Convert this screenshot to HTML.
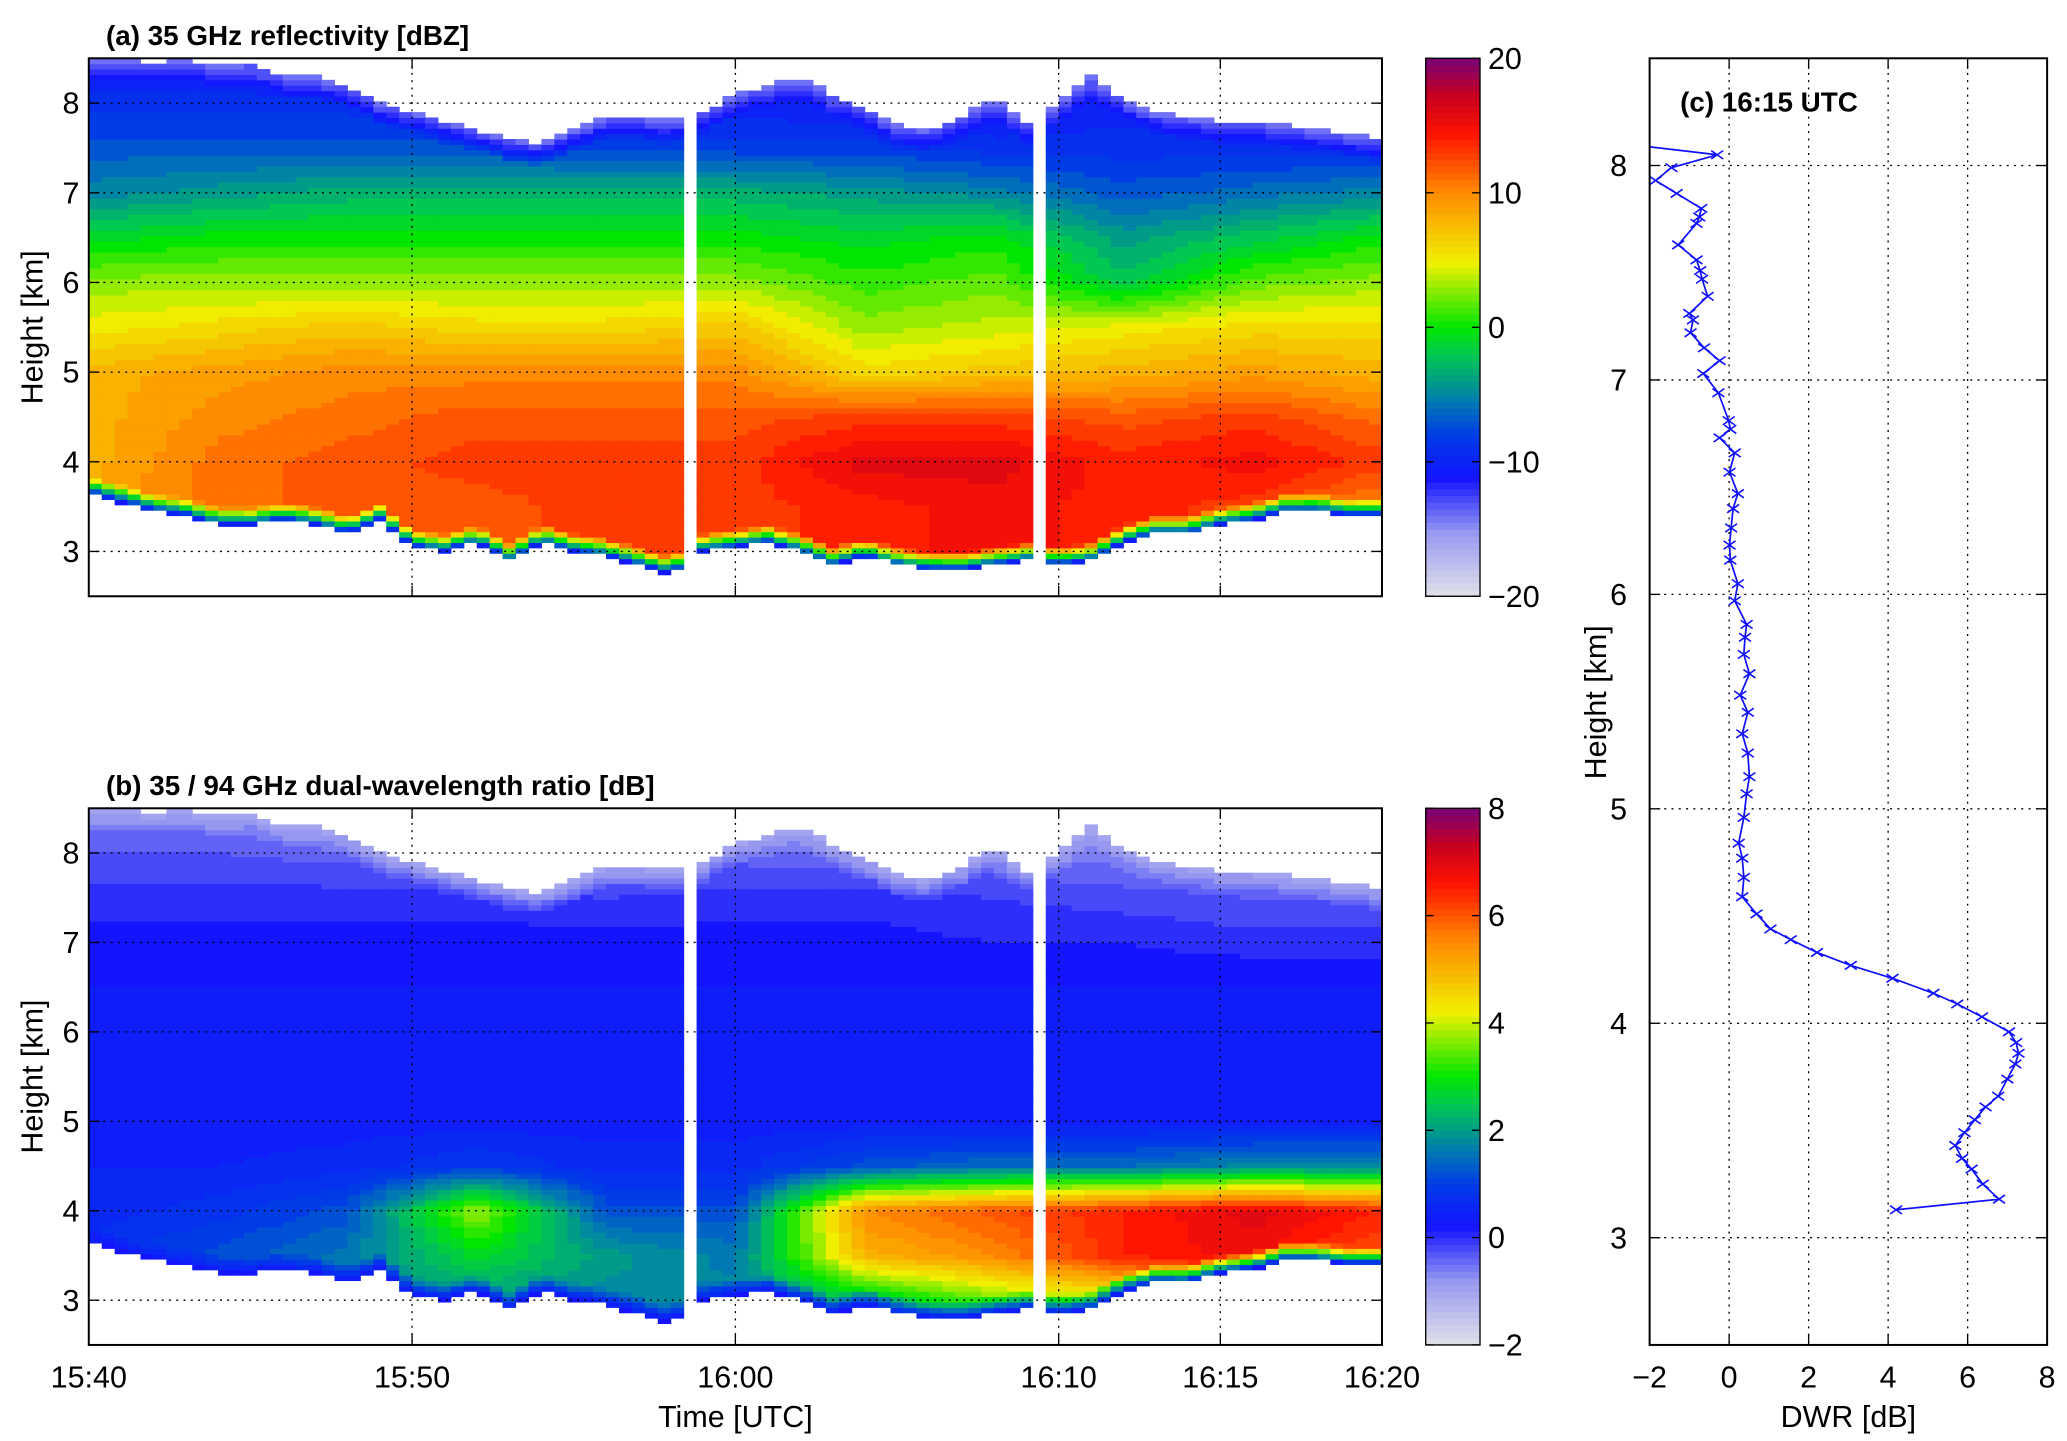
<!DOCTYPE html>
<html><head><meta charset="utf-8">
<style>
html,body{margin:0;padding:0;background:#fff;}
svg{display:block;font-family:"Liberation Sans",Arial,sans-serif;}
</style></head>
<body>
<svg id="fig" width="2067" height="1441" viewBox="0 0 1560 1087.5" preserveAspectRatio="none" xmlns="http://www.w3.org/2000/svg">
  <g id="pa"></g>
  <g id="pb"></g>
  <g id="pc"></g>
</svg>
<script>
// ---------- DATA ----------
const gridTimes = [0,4,8,12,16,20,24,28,32,36,40];           // minutes after 15:40
const gridHeights = [3.0,3.5,4.0,4.5,5.0,5.5,6.0,6.5,7.0,7.5,8.0,8.5]; // km
const zGrid = [
 [12,12,12,12,13,13,14,15,14,13,12],
 [9,11,12,12,13,13,14,15,14,13,10],
 [8,11,12,13,13,13,16,16,14,15,13],
 [8,10,11,12,12,12,13,13,12,13,11],
 [8,9,10,10,10,10,6,7,8,9,8],
 [5,6,7,6,6,7,3,4,5,6,6],
 [3,3,3,3,3,3,1,2,-2,2,3],
 [-1,0,0,0,0,0,-1,0,-4,-2,0],
 [-5,-4,-3,-3,-3,-3,-4,-5,-7,-6,-5],
 [-7,-7,-7,-7,-8,-8,-8,-9,-9,-9,-9],
 [-9,-9,-9,-10,-11,-10,-11,-11,-10,-11,-12],
 [-11,-11,-12,-13,-14,-13,-14,-14,-13,-14,-15]
];
const dwrGrid = [
 [1,1.3,1.8,2,1.8,1.8,2.5,3.5,4,4.5,4],
 [0.8,1.2,1.6,2.8,2,1.6,5,5.5,6.5,6.8,6],
 [0.6,0.8,1.2,3.8,1.2,1.2,5.5,6,6.5,7,6.5],
 [0.5,0.5,0.6,0.9,0.6,0.6,1.2,1.5,1.5,1.8,1.8],
 [0.4,0.4,0.4,0.4,0.4,0.4,0.4,0.4,0.4,0.4,0.4],
 [0.4,0.4,0.4,0.4,0.4,0.4,0.4,0.4,0.4,0.4,0.4],
 [0.4,0.4,0.4,0.4,0.4,0.4,0.4,0.4,0.4,0.4,0.4],
 [0.3,0.3,0.3,0.3,0.3,0.3,0.3,0.3,0.3,0.3,0.3],
 [0.2,0.2,0.2,0.2,0.2,0.2,0.2,0.1,0.1,0.0,0.0],
 [0,0,0,0,-0.1,0,0,-0.1,-0.2,-0.3,-0.3],
 [-0.3,-0.3,-0.4,-0.4,-0.5,-0.4,-0.5,-0.5,-0.6,-0.6,-0.6],
 [-0.6,-0.6,-0.7,-0.7,-0.8,-0.7,-0.8,-0.8,-0.9,-0.9,-0.9]
];
const cloudBase = [3.65,3.55,3.45,3.4,3.3,3.3,3.35,3.3,3.2,3.35,3.05,3.0,3.1,2.9,3.1,3.0,2.95,2.85,2.75,3.0,3.05,3.1,3.0,2.85,2.95,2.85,2.8,2.8,2.85,2.9,2.85,2.9,3.1,3.2,3.2,3.3,3.35,3.45,3.45,3.4,3.4];
const cloudTop = [8.5,8.5,8.45,8.5,8.4,8.45,8.3,8.3,8.2,8.0,7.9,7.8,7.7,7.6,7.55,7.7,7.85,7.85,7.8,7.9,8.1,8.2,8.3,8.1,7.95,7.75,7.7,7.85,8.05,7.8,8.0,8.3,8.05,7.9,7.85,7.8,7.8,7.75,7.7,7.65,7.6];
const dataGaps = [[18.45,18.75],[29.15,29.45]];
const timeTickLabels = ["15:40","15:50","16:00","16:10","16:15","16:20"];
const timeTickMinutes = [0,10,20,30,35,40];
const heightTicks = [3,4,5,6,7,8];
const cbarATicks = [20,10,0,-10,-20];
const cbarBTicks = [8,6,4,2,0,-2];
const dwrProfile = [-2.6,-0.3,-1.45,-1.85,-1.32,-0.7,-0.75,-0.82,-1.28,-0.82,-0.73,-0.68,-0.54,-1.0,-0.91,-0.97,-0.63,-0.24,-0.65,-0.27,-0.01,0.03,-0.24,0.14,0.01,0.22,0.10,0.05,0.01,0.03,0.22,0.14,0.44,0.40,0.37,0.51,0.28,0.47,0.33,0.47,0.51,0.44,0.37,0.24,0.33,0.37,0.33,0.69,1.04,1.55,2.21,3.06,4.11,5.14,5.74,6.36,7.04,7.22,7.28,7.20,7.00,6.77,6.45,6.18,5.92,5.69,5.86,6.10,6.38,6.79,4.20];
const profileHeights = [8.10,8.05,7.99,7.93,7.87,7.80,7.76,7.73,7.63,7.56,7.51,7.47,7.39,7.31,7.28,7.22,7.15,7.09,7.03,6.94,6.81,6.77,6.73,6.66,6.57,6.47,6.40,6.31,6.23,6.16,6.05,5.97,5.86,5.80,5.72,5.63,5.53,5.45,5.35,5.26,5.15,5.07,4.96,4.84,4.77,4.68,4.59,4.51,4.44,4.39,4.33,4.27,4.21,4.14,4.09,4.03,3.96,3.91,3.86,3.81,3.74,3.66,3.61,3.55,3.49,3.43,3.37,3.32,3.25,3.18,3.13];

// ---------- helpers ----------
const NS="http://www.w3.org/2000/svg";
function mk(tag,attrs,parent){const e=document.createElementNS(NS,tag);for(const k in attrs)e.setAttribute(k,attrs[k]);parent.appendChild(e);return e;}
const cmapStops=[[0,[226,226,232]],[0.12,[150,152,240]],[0.22,[20,20,255]],[0.3,[0,60,230]],[0.37,[0,130,170]],[0.45,[0,200,80]],[0.5,[0,230,0]],[0.62,[240,240,0]],[0.75,[255,140,0]],[0.86,[255,20,0]],[0.93,[200,0,30]],[1,[120,0,120]]];
function cmap(f){f=Math.max(0,Math.min(1,f));for(let i=1;i<cmapStops.length;i++){if(f<=cmapStops[i][0]){const a=cmapStops[i-1],b=cmapStops[i];const u=(f-a[0])/(b[0]-a[0]);const c=a[1].map((v,j)=>Math.round(v+(b[1][j]-v)*u));return `rgb(${c[0]},${c[1]},${c[2]})`;}}return "rgb(120,0,120)";}
function interp1(arr,t){const i=Math.max(0,Math.min(arr.length-2,Math.floor(t)));const u=t-i;return arr[i]*(1-u)+arr[i+1]*u;}
function gridVal(g,t,h){
  let ti=t/4, hi=(h-3)/0.5;
  ti=Math.max(0,Math.min(gridTimes.length-1.0001,ti)); hi=Math.max(0,Math.min(gridHeights.length-1.0001,hi));
  const i=Math.floor(ti),j=Math.floor(hi),u=ti-i,v=hi-j;
  return g[j][i]*(1-u)*(1-v)+g[j][i+1]*u*(1-v)+g[j+1][i]*(1-u)*v+g[j+1][i+1]*u*v;
}
const X0=67,X1=1043;
function xT(m){return X0+(X1-X0)*m/40;}

function drawPanel(g,top,bot,grid,vmin,vmax,baseEdge,topEdge,step,title,cbTicks,showX){
  const yH=h=>bot-(h-2.5)*(bot-top)/6;
  const cells=mk('g',{},g);
  
  
  const dt=0.4, dh=0.06;
  for(let t=0;t<40-1e-6;t+=dt){
    const tc=t+dt/2;
    if(dataGaps.some(gp=>tc>gp[0]&&tc<gp[1]))continue;
    const base=interp1(cloudBase,tc), tp=interp1(cloudTop,tc);
    for(let h=2.5;h<8.5-1e-6;h+=dh){
      const hc=h+dh/2;
      if(hc<base||hc>tp)continue;
      let v=gridVal(grid,tc,hc);
      const db=hc-base; if(db<0.2){const w=db/0.2;v=baseEdge*(1-w)+v*w;}
      const dtp=tp-hc; if(dtp<0.25){const w=dtp/0.25;v=topEdge*(1-w)+v*w;}
      v=Math.round(v/step)*step;
      const r=mk('rect',{x:xT(t).toFixed(2),y:yH(h+dh).toFixed(2),width:(xT(t+dt)-xT(t)+0.4).toFixed(2),height:(yH(h)-yH(h+dh)+0.4).toFixed(2),fill:cmap((v-vmin)/(vmax-vmin))},cells);
      
      
    }
  }
  const gl=mk('g',{stroke:'#000','stroke-width':1,'stroke-dasharray':'1.5,4'},g);
  
  
  heightTicks.forEach(h=>mk('line',{x1:X0,x2:X1,y1:yH(h),y2:yH(h)},gl));
  timeTickMinutes.slice(1,-1).forEach(m=>mk('line',{x1:xT(m),x2:xT(m),y1:top,y2:bot},gl));
  const box=mk('rect',{x:X0,y:top,width:X1-X0,height:bot-top,fill:'none',stroke:'#000','stroke-width':1.5},g);
  
  
  heightTicks.forEach(h=>{
    mk('line',{x1:X0,x2:X0+8,y1:yH(h),y2:yH(h),stroke:'#000'},g);
    mk('line',{x1:X1-8,x2:X1,y1:yH(h),y2:yH(h),stroke:'#000'},g);
    const tx=mk('text',{x:60,y:yH(h)+8,'text-anchor':'end','font-size':23},g);
    tx.textContent=h;
    
    
  });
  timeTickMinutes.forEach((m,i)=>{
    mk('line',{x1:xT(m),x2:xT(m),y1:bot,y2:bot-8,stroke:'#000'},g);
    mk('line',{x1:xT(m),x2:xT(m),y1:top,y2:top+8,stroke:'#000'},g);
    if(showX){
      const tx=mk('text',{x:xT(m),y:bot+32,'text-anchor':'middle','font-size':23},g);
      tx.textContent=timeTickLabels[i];
      
      
    }
  });
  const yl=mk('text',{x:0,y:0,'text-anchor':'middle','font-size':23,transform:`translate(32,${(top+bot)/2}) rotate(-90)`},g);
  yl.textContent='Height [km]';
  
  
  const tt=mk('text',{x:80,y:top-10,'font-size':21,'font-weight':'bold'},g);
  tt.textContent=title;
  
  
  const cb=mk('g',{},g);
  
  
  const CX=1076,CW=41,n=80;
  for(let i=0;i<n;i++){
    const f=(i+0.5)/n;
    mk('rect',{x:CX,y:bot-(i+1)*(bot-top)/n,width:CW,height:(bot-top)/n+0.5,fill:cmap(f)},cb);
  }
  mk('rect',{x:CX,y:top,width:CW,height:bot-top,fill:'none',stroke:'#000','stroke-width':1},cb);
  cbTicks.forEach(v=>{
    const y=bot-(v-vmin)/(vmax-vmin)*(bot-top);
    mk('line',{x1:CX+CW-6,x2:CX+CW,y1:y,y2:y,stroke:'#000'},cb);
    mk('line',{x1:CX,x2:CX+6,y1:y,y2:y,stroke:'#000'},cb);
    const tx=mk('text',{x:CX+CW+6,y:y+8,'font-size':23},cb);
    tx.textContent=String(v).replace('-','\u2212');
    
    
  });
}

drawPanel(document.getElementById('pa'),44,450,zGrid,-20,20,-11,-14,1,'(a) 35 GHz reflectivity [dBZ]',cbarATicks,false);
drawPanel(document.getElementById('pb'),610,1015,dwrGrid,-2,8,0.2,-1.0,0.2,'(b) 35 / 94 GHz dual-wavelength ratio [dB]',cbarBTicks,true);
{
  const g=document.getElementById('pb');
  const xl=mk('text',{x:555,y:1077,'text-anchor':'middle','font-size':23},g);
  xl.textContent='Time [UTC]';
  
  
}

// ---------- panel c ----------
{
  const g=document.getElementById('pc');
  const L=1245,R=1545,T=44,B=1015;
  const xD=d=>L+(d+2)*(R-L)/10;
  const yK=h=>B-(h-2.5)*(B-T)/6;
  const gl=mk('g',{stroke:'#000','stroke-width':1,'stroke-dasharray':'1.5,4'},g);
  
  
  heightTicks.forEach(h=>mk('line',{x1:L,x2:R,y1:yK(h),y2:yK(h)},gl));
  [0,2,4,6].forEach(d=>mk('line',{x1:xD(d),x2:xD(d),y1:T,y2:B},gl));
  const cp=mk('clipPath',{id:'clipc'},g);
  mk('rect',{x:L,y:T,width:R-L,height:B-T},cp);
  const pts=dwrProfile.map((d,i)=>xD(d).toFixed(1)+','+yK(profileHeights[i]).toFixed(1)).join(' ');
  const line=mk('polyline',{points:pts,fill:'none',stroke:'#1010ff','stroke-width':1.3,'clip-path':'url(#clipc)'},g);
  
  
  dwrProfile.forEach((d,i)=>{
    if(d<-2)return;
    const x=xD(d),y=yK(profileHeights[i]),s=4.5;
    const m=mk('path',{d:`M${x-s},${y-s*0.7}L${x+s},${y+s*0.7}M${x-s},${y+s*0.7}L${x+s},${y-s*0.7}`,stroke:'#1010ff','stroke-width':1.2,fill:'none'},g);
    
    
  });
  const box=mk('rect',{x:L,y:T,width:R-L,height:B-T,fill:'none',stroke:'#000','stroke-width':1.5},g);
  
  
  heightTicks.forEach(h=>{
    mk('line',{x1:L,x2:L+8,y1:yK(h),y2:yK(h),stroke:'#000'},g);
    mk('line',{x1:R-8,x2:R,y1:yK(h),y2:yK(h),stroke:'#000'},g);
    const tx=mk('text',{x:1228,y:yK(h)+8,'text-anchor':'end','font-size':23},g);
    tx.textContent=h;
    
    
  });
  [-2,0,2,4,6,8].forEach(d=>{
    mk('line',{x1:xD(d),x2:xD(d),y1:B,y2:B-8,stroke:'#000'},g);
    mk('line',{x1:xD(d),x2:xD(d),y1:T,y2:T+8,stroke:'#000'},g);
    const tx=mk('text',{x:xD(d),y:B+32,'text-anchor':'middle','font-size':23},g);
    tx.textContent=String(d).replace('-','\u2212');
    
    
  });
  const xl=mk('text',{x:1395,y:1077,'text-anchor':'middle','font-size':23},g);
  xl.textContent='DWR [dB]';
  
  
  const yl=mk('text',{x:0,y:0,'text-anchor':'middle','font-size':23,transform:`translate(1212,530) rotate(-90)`},g);
  yl.textContent='Height [km]';
  
  
  const tt=mk('text',{x:1268,y:84,'font-size':21,'font-weight':'bold'},g);
  tt.textContent='(c) 16:15 UTC';
  
  
}
</script>
</body></html>
